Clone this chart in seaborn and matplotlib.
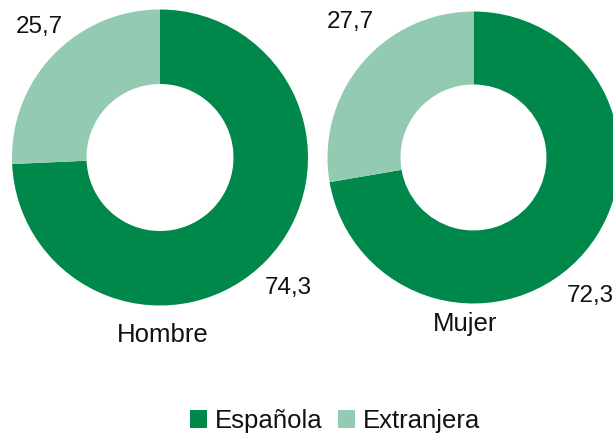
import matplotlib
matplotlib.use("Agg")
import matplotlib.pyplot as plt
import seaborn as sns

# Distribution by nationality (%) for each sex
groups = ["Hombre", "Mujer"]
nationalities = ["Española", "Extranjera"]
espanola = [74.3, 72.3]
extranjera = [25.7, 27.7]

sns.set_theme(style="white")
plt.rcParams["font.family"] = ["Liberation Sans", "DejaVu Sans"]
colors = sns.color_palette(["#00884B", "#93CBB2"])

W, H = 613, 434
fig = plt.figure(figsize=(W / 100, H / 100), dpi=100)
ax = fig.add_axes([0, 0, 1, 1])
ax.set_xlim(0, W)
ax.set_ylim(0, H)
ax.set_aspect("equal")
ax.axis("off")

# layout of each donut: centre (pixels, y up), outer radius, ring width
layout = [
    dict(center=(160, 276.5), radius=148, width=74.5,
         lab_esp=(288, 146), lab_ext=(39.5, 406.5), title=(163, 99)),
    dict(center=(473.5, 276.5), radius=146, width=73,
         lab_esp=(590, 138), lab_ext=(350, 412), title=(465, 110)),
]

def fmt(v):
    return f"{v:.1f}".replace(".", ",")

wedges = None
for i, g in enumerate(groups):
    L = layout[i]
    vals = [espanola[i], extranjera[i]]
    w, _ = ax.pie(vals, colors=colors, startangle=90, counterclock=False,
                  center=L["center"], radius=L["radius"],
                  wedgeprops=dict(width=L["width"], linewidth=0))
    if wedges is None:
        wedges = w
    ax.text(*L["lab_esp"], fmt(espanola[i]), ha="center", va="center",
            fontsize=17.5, color="#111111")
    ax.text(*L["lab_ext"], fmt(extranjera[i]), ha="center", va="center",
            fontsize=17.5, color="#111111")
    ax.text(*L["title"], g, ha="center", va="center", fontsize=18.5,
            color="#111111")

ax.set_xlim(0, W)
ax.set_ylim(0, H)

leg = fig.legend(wedges, nationalities, loc="center",
                 bbox_to_anchor=(335 / W, 13 / H), ncol=2, frameon=False,
                 fontsize=18.5, handlelength=0.66, handleheight=0.66,
                 handletextpad=0.3, columnspacing=0.6, borderpad=0,
                 borderaxespad=0)
for t in leg.get_texts():
    t.set_color("#111111")

fig.savefig("out.png", dpi=100)
